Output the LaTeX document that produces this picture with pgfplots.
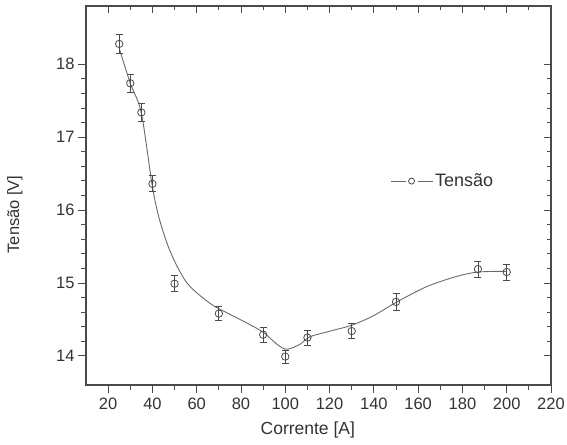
\documentclass[border=0pt]{standalone}
\usepackage{fontspec}
\setmainfont{Liberation Sans}
\usepackage{pgfplots}
\pgfplotsset{compat=1.18}
\definecolor{axcol}{HTML}{4A4A4A}
\definecolor{txtcol}{HTML}{333333}
\definecolor{curvecol}{HTML}{6A6A6A}
\begin{document}
\begin{tikzpicture}
\useasboundingbox (-86pt,-59pt) rectangle (481pt,385pt);
\pgfplotsset{
  common/.style={
    width=465pt, height=379pt, scale only axis,
    xmin=10, xmax=220, ymin=13.6, ymax=18.8,
    xtick={20,40,...,220}, ytick={14,15,...,18},
    minor x tick num=1, minor y tick num=4,
    axis line style={axcol, line width=1.2pt},
    major tick length=8pt, minor tick length=4.5pt,
    every tick/.style={axcol, line width=0.9pt},
    /pgf/number format/assume math mode=true,
  }
}
\begin{axis}[common,
  xtick pos=top, ytick pos=right, tick align=inside,
  xticklabels={}, yticklabels={},
  major tick length=7pt,
]
\end{axis}
\begin{axis}[common,
  xtick pos=bottom, ytick pos=left, tick align=outside,
  ticklabel style={font=\fontsize{16.5}{18}\selectfont, text=txtcol},
  xticklabel style={yshift=-1.5pt},
  xlabel={Corrente [A]}, ylabel={Tensão [V]},
  xlabel style={at={(axis description cs:0.477,-0.119)}, anchor=center, font=\fontsize{17.5}{20}\selectfont, text=txtcol},
  ylabel style={at={(axis description cs:-0.153,0.45)}, anchor=center, font=\fontsize{16.5}{20}\selectfont, text=txtcol},
  legend style={at={(axis description cs:0.654,0.538)}, anchor=west, draw=none, fill=none,
    font=\fontsize{18}{20}\selectfont, text=txtcol, inner sep=0pt, outer sep=0pt},
  legend cell align=left,
]
\addplot[curvecol, line width=0.9pt, smooth, tension=0.5, forget plot] coordinates {
 (25,18.22) (30,17.74) (35,17.33) (40,16.32) (43.2,15.87) (48.2,15.42) (55.6,15.0)
 (66,14.72) (73.7,14.59) (82.7,14.45) (90.2,14.32) (96.2,14.16) (100.7,14.09)
 (106.7,14.16) (111,14.26) (120.3,14.34) (130,14.42) (139.8,14.55) (150.4,14.74)
 (163.9,14.95) (177.4,15.09) (187.2,15.15) (200,15.16)
};
\addplot[only marks, mark=o, mark size=3.7pt, mark options={axcol, line width=0.8pt, fill=white},
  legend image code/.code={
    \draw[curvecol, line width=0.9pt] (0pt,0pt) -- (15pt,0pt);
    \draw[curvecol, line width=0.9pt] (27pt,0pt) -- (42pt,0pt);
    \draw[axcol, line width=0.8pt] (21pt,0pt) circle (3pt);
  },
  error bars/.cd, y dir=both, y explicit,
  error bar style={axcol, line width=0.8pt},
  error mark options={rotate=90, mark size=3.5pt, axcol, line width=0.8pt},
] coordinates {
 (25,18.28) +- (0,0.13)
 (30,17.74) +- (0,0.12)
 (35,17.34) +- (0,0.12)
 (40,16.36) +- (0,0.11)
 (50,14.99) +- (0,0.11)
 (70,14.58) +- (0,0.10)
 (90,14.29) +- (0,0.10)
 (100,13.99) +- (0,0.09)
 (110,14.25) +- (0,0.10)
 (130,14.34) +- (0,0.10)
 (150,14.74) +- (0,0.11)
 (187,15.19) +- (0,0.11)
 (200,15.15) +- (0,0.11)
};
\addlegendentry{Tensão}
\end{axis}
\end{tikzpicture}
\end{document}
